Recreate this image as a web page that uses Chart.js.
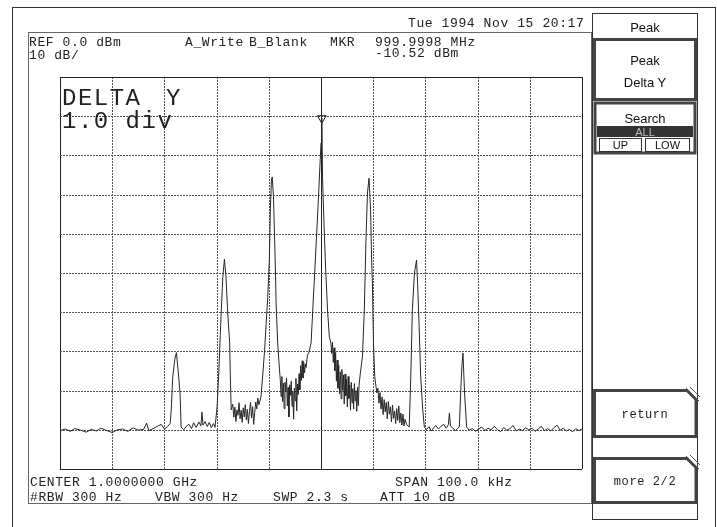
<!DOCTYPE html>
<html>
<head>
<meta charset="utf-8">
<script src="https://cdn.jsdelivr.net/npm/chart.js@4.4.1/dist/chart.umd.min.js"></script>
<style>
  html, body { margin: 0; padding: 0; background: #fff; }
  #wrap { position: relative; width: 717px; height: 527px; overflow: hidden; }
  #spec, #overlay { position: absolute; left: 0; top: 0; }
  #overlay { pointer-events: none; }
  .m { font-family: "Liberation Mono", monospace; font-size: 13px; letter-spacing: 0.6px; fill: #222; dominant-baseline: central; }
  .big { font-size: 24px; letter-spacing: 1.5px; }
  .p { font-family: "Liberation Sans", sans-serif; font-size: 13px; fill: #111; dominant-baseline: central; text-anchor: middle; }
</style>
</head>
<body>
<div id="wrap">
  <canvas id="spec" width="717" height="527"></canvas>
  <svg id="overlay" width="717" height="527" xmlns="http://www.w3.org/2000/svg">
    <!-- screen frames -->
    <rect x="12.5" y="7.5" width="703" height="530" fill="none" stroke="#333" stroke-width="1"/>
    <rect x="28.5" y="32.5" width="563" height="471" fill="none" stroke="#666" stroke-width="1"/>

    <!-- header -->
    <text class="m" x="408" y="23">Tue 1994 Nov 15 20:17</text>
    <text class="m" x="29" y="42">REF 0.0 dBm</text>
    <text class="m" x="29" y="55">10 dB/</text>
    <text class="m" x="185" y="42">A_Write</text>
    <text class="m" x="249" y="42">B_Blank</text>
    <text class="m" x="330" y="42">MKR</text>
    <text class="m" x="375" y="42">999.9998 MHz</text>
    <text class="m" x="375" y="53">-10.52 dBm</text>

    <text class="m big" x="62" y="98">DELTA</text>
    <text class="m big" x="166" y="98">Y</text>
    <text class="m big" x="62" y="121">1.0 div</text>

    <!-- footer -->
    <text class="m" x="30" y="482">CENTER 1.0000000 GHz</text>
    <text class="m" x="395" y="482">SPAN 100.0 kHz</text>
    <text class="m" x="30" y="497">#RBW 300 Hz</text>
    <text class="m" x="155" y="497">VBW 300 Hz</text>
    <text class="m" x="273" y="497">SWP 2.3 s</text>
    <text class="m" x="380" y="497">ATT 10 dB</text>

    <!-- softkey column -->
    <line x1="592.5" y1="13" x2="592.5" y2="520" stroke="#333"/>
    <line x1="697.5" y1="13" x2="697.5" y2="520" stroke="#333"/>
    <rect x="592.5" y="503.5" width="105" height="16" fill="none" stroke="#333"/>
    <rect x="592.5" y="13.5" width="105" height="25" fill="#fff" stroke="#333"/>
    <text class="p" x="645" y="27">Peak</text>

    <rect x="594.5" y="39.5" width="101" height="60" fill="#fff" stroke="#444" stroke-width="3"/>
    <text class="p" x="645" y="60">Peak</text>
    <text class="p" x="645" y="82">Delta Y</text>

    <rect x="595" y="103" width="100" height="50" fill="#fff" stroke="#444" stroke-width="3"/>
    <text class="p" x="645" y="118">Search</text>
    <rect x="597" y="126" width="96" height="11" fill="#333"/>
    <text class="p" x="645" y="131.5" style="fill:#bbb;font-size:11px">ALL</text>
    <rect x="599.5" y="138.5" width="42" height="13" fill="#fff" stroke="#333"/>
    <text class="p" x="620.5" y="145" style="font-size:11px">UP</text>
    <rect x="645.5" y="138.5" width="44" height="13" fill="#fff" stroke="#333"/>
    <text class="p" x="667.5" y="145" style="font-size:11px">LOW</text>

    <path d="M594.5,390.5 H687 L696,399.5 V436.5 H594.5 Z" fill="#fff" stroke="#444" stroke-width="3"/>
    <path d="M686,388 L699,401 M690,387 L700,397" stroke="#555" stroke-width="1"/>
    <text class="m" x="645" y="415" text-anchor="middle" style="font-size:12px">return</text>

    <path d="M594.5,458.5 H687 L696,467.5 V502.5 H594.5 Z" fill="#fff" stroke="#444" stroke-width="3"/>
    <path d="M686,456 L699,469 M690,455 L700,465" stroke="#555" stroke-width="1"/>
    <text class="m" x="645" y="482" text-anchor="middle" style="font-size:12px">more 2/2</text>
  </svg>
</div>
<script>
// span is 100 kHz around 1 GHz, ref level 0 dBm, 10 dB/div
const freqTicks  = [-50, -40, -30, -20, -10, 0, 10, 20, 30, 40, 50];
const levelTicks = [0, -10, -20, -30, -40, -50, -60, -70, -80, -90, -100];

// trace, frequency offset in kHz from center
const traceFreq = [
  -50.0,-49.0,-48.0,-47.2,-46.0,-45.0,-44.0,-43.0,-42.2,-41.0,-40.0,-39.0,-38.0,-37.0,-36.0,-35.0,-34.0,-33.4,-33.0,-32.0,-31.2,-30.6,-30.0,-29.4,-28.9,
  -28.7,-28.4,-28.0,-27.7,-27.4,-27.0,-26.8,
  -26.3,-25.8,-25.3,-24.8,-24.4,-23.9,-23.4,-23.0,-22.8,-22.6,-22.2,-21.8,-21.4,-21.0,-20.6,-20.3,
  -19.9,-19.6,-19.3,-19.1,-18.8,-18.5,-18.2,-17.9,-17.5,-17.4,-17.2,
  -16.9,-16.7,-16.5,-16.3,-16.1,-15.9,-15.7,-15.5,-15.3,-15.1,-14.9,-14.7,-14.5,-14.3,-14.1,-13.9,-13.7,-13.5,-13.3,-13.1,-12.9,-12.7,-12.5,-12.3,-12.1,-11.9,
  -11.5,-11.1,-10.8,-10.5,-10.2,-9.9,-9.7,-9.5,-9.35,-9.1,-8.9,-8.7,-8.6,-8.3,-7.95,
  -7.8,-7.65,-7.5,-7.35,-7.2,-7.05,-6.9,-6.75,-6.6,-6.45,-6.3,-6.15,-6.0,-5.85,-5.7,-5.55,-5.4,-5.25,-5.1,-4.95,-4.8,-4.65,-4.5,-4.35,-4.2,-4.05,
  -3.9,-3.75,-3.6,-3.45,-3.3,-3.15,-3.0,-2.85,-2.6,-2.3,-1.9,-1.25,-0.6,0.0,0.15,0.3,0.6,0.9,1.25,1.6,1.9,
  2.05,2.2,2.35,2.5,2.65,2.8,2.95,3.1,3.25,3.4,3.55,3.7,3.85,4.0,4.15,4.3,4.45,4.6,4.75,4.9,5.05,5.2,5.35,5.5,5.65,5.8,5.95,6.1,6.25,6.4,6.55,6.7,6.85,7.0,7.15,7.3,
  7.5,7.95,8.3,8.6,8.9,9.2,9.5,9.7,9.85,10.05,10.3,10.7,
  10.9,11.1,11.3,11.5,11.7,11.9,12.1,12.3,12.5,12.7,12.9,13.1,13.3,13.5,13.7,13.9,14.1,14.3,14.5,14.7,14.9,15.1,15.3,15.5,15.7,15.9,16.1,
  16.4,16.7,16.9,17.2,17.5,17.9,18.3,18.5,18.8,19.1,19.5,19.8,
  20.2,20.7,21.1,21.6,22.0,22.5,23.0,23.5,24.0,24.4,24.6,24.8,25.3,25.8,26.2,
  26.5,26.8,27.0,27.2,27.5,27.9,
  28.4,29.0,29.6,30.2,30.8,31.4,32.0,32.6,33.2,33.8,34.4,35.0,35.6,36.2,36.8,37.4,38.0,38.6,39.2,39.8,40.4,41.0,41.6,42.2,42.8,43.4,44.0,44.6,45.2,45.8,46.4,47.0,47.6,48.2,48.8,49.4,50.0
];

// trace level in dBm, same order as traceFreq
const traceLevel = [
  -90.2,-89.8,-90.4,-89.7,-90.1,-90.6,-89.9,-90.3,-89.6,-90.2,-90.7,-90.0,-89.8,-90.4,-89.5,-90.1,-89.9,-88.3,-90.2,-89.6,-89.0,-88.6,-89.8,-89.2,-88.4,
  -85.2,-76.4,-72.0,-70.3,-74.5,-80.6,-89.3,
  -90.0,-89.1,-88.6,-89.7,-88.2,-89.4,-88.0,-89.0,-85.5,-88.8,-87.9,-89.2,-88.1,-89.5,-88.4,-89.4,
  -84.0,-76.0,-66.0,-59.4,-50.9,-46.5,-51.0,-59.4,-67.8,-74.7,-84.9,
  -83.5,-86.8,-84.2,-87.9,-84.9,-86.3,-83.1,-87.2,-85.0,-88.1,-84.4,-86.7,-83.6,-87.5,-84.8,-88.4,-85.3,-83.0,-87.0,-84.1,-88.6,-85.6,-82.9,-84.7,-81.9,-83.6,
  -81.6,-75.0,-69.6,-62.8,-56.1,-46.7,-33.9,-26.3,-25.5,-30.6,-40.8,-51.0,-57.7,-67.9,-74.7,
  -77.2,-81.5,-76.4,-82.8,-78.1,-84.6,-77.9,-80.3,-76.8,-83.9,-79.2,-86.7,-78.5,-81.2,-77.6,-84.0,-80.1,-87.3,-79.4,-82.6,-76.9,-85.2,-78.3,-81.0,-75.7,-79.8,
  -73.6,-77.4,-72.4,-76.8,-72.9,-75.5,-73.2,-74.1,-71.0,-70.2,-67.8,-51.0,-33.9,-16.8,-10.52,-25.8,-38.5,-49.2,-59.4,-66.3,-67.9,
  -70.5,-67.6,-72.8,-69.1,-74.9,-70.3,-77.6,-72.2,-79.4,-73.5,-80.8,-75.2,-82.1,-74.6,-79.9,-76.0,-83.4,-75.8,-81.3,-77.1,-84.2,-76.4,-82.0,-78.6,-85.0,-77.9,-83.1,-79.5,-84.7,-78.2,-82.6,-80.0,-85.3,-79.1,-83.8,-78.6,
  -76.0,-71.2,-59.4,-42.3,-29.6,-25.8,-33.9,-46.7,-52.5,-67.9,-76.5,-80.6,
  -79.4,-83.2,-80.5,-84.7,-81.6,-86.1,-82.3,-85.4,-83.0,-87.2,-82.8,-86.0,-84.1,-88.0,-83.7,-87.1,-85.2,-88.4,-84.6,-87.6,-83.9,-88.2,-85.7,-88.8,-86.0,-89.0,-87.3,
  -88.6,-89.1,-89.3,-76.5,-59.4,-50.0,-46.7,-52.5,-63.7,-76.5,-85.0,-89.3,
  -89.9,-89.2,-90.3,-89.5,-88.9,-89.8,-89.1,-88.6,-89.6,-88.7,-85.7,-89.0,-89.7,-90.2,-89.6,
  -89.3,-79.1,-73.5,-70.4,-80.6,-89.3,
  -90.1,-89.7,-90.4,-89.8,-89.3,-90.2,-89.6,-90.0,-89.1,-89.9,-90.5,-89.4,-90.1,-89.7,-88.9,-90.3,-89.8,-90.2,-89.5,-90.0,-89.6,-90.4,-89.8,-89.1,-90.2,-89.7,-90.3,-89.5,-88.8,-90.1,-89.6,-90.3,-89.9,-90.5,-89.7,-90.2,-89.8
];

// marker readout: 999.9998 MHz, -10.52 dBm
const markerFreq  = [0.15];
const markerLevel = [-10.52];

const n = Math.min(traceFreq.length, traceLevel.length);
const tracePoints = [];
for (let i = 0; i < n; i++) tracePoints.push({ x: traceFreq[i], y: traceLevel[i] });
const markerPoints = markerFreq.map((f, i) => ({ x: f, y: markerLevel[i] }));

// graticule drawn from the scales, dotted like the plotter copy
const graticule = {
  id: 'graticule',
  beforeDatasetsDraw(chart) {
    const { ctx, chartArea: a, scales: { x, y } } = chart;
    ctx.save();
    ctx.lineWidth = 1;
    freqTicks.forEach(v => {
      const px = Math.round(x.getPixelForValue(v)) + 0.5;
      const solid = v === 0 || v === freqTicks[0] || v === freqTicks[freqTicks.length - 1];
      ctx.strokeStyle = solid ? '#222' : '#555';
      ctx.setLineDash(solid ? [] : [2, 1]);
      ctx.beginPath(); ctx.moveTo(px, a.top); ctx.lineTo(px, a.bottom); ctx.stroke();
    });
    levelTicks.forEach(v => {
      const py = Math.round(y.getPixelForValue(v)) + 0.5;
      const solid = v === levelTicks[0] || v === levelTicks[levelTicks.length - 1];
      ctx.strokeStyle = solid ? '#222' : '#555';
      ctx.setLineDash(solid ? [] : [2, 1]);
      ctx.beginPath(); ctx.moveTo(a.left, py); ctx.lineTo(a.right, py); ctx.stroke();
    });
    ctx.restore();
  }
};

new Chart(document.getElementById('spec'), {
  type: 'line',
  data: {
    datasets: [
      {
        label: 'A_Write',
        data: tracePoints,
        borderColor: '#262626',
        borderWidth: 1,
        pointRadius: 0,
        tension: 0,
        fill: false
      },
      {
        type: 'scatter',
        label: 'MKR',
        data: markerPoints,
        pointStyle: 'triangle',
        rotation: 180,
        pointRadius: 5,
        borderColor: '#111',
        borderWidth: 1,
        backgroundColor: 'rgba(0,0,0,0)'
      }
    ]
  },
  options: {
    responsive: false,
    devicePixelRatio: 1,
    animation: false,
    events: [],
    layout: { padding: { left: 60, top: 77, right: 135, bottom: 58 } },
    plugins: { legend: { display: false }, tooltip: { enabled: false } },
    scales: {
      x: { type: 'linear', min: -50, max: 50, display: false },
      y: { type: 'linear', min: -100, max: 0, display: false }
    }
  },
  plugins: [graticule]
});
</script>
</body>
</html>
